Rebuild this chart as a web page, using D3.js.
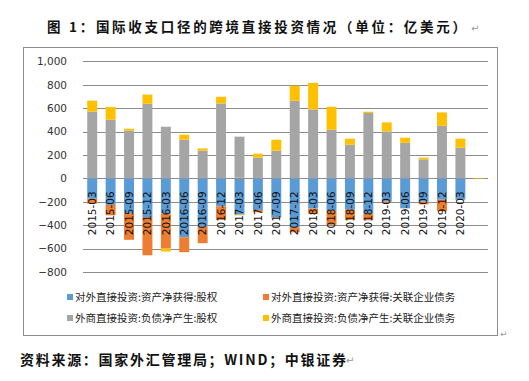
<!DOCTYPE html>
<html><head><meta charset="utf-8">
<script src="https://cdn.jsdelivr.net/npm/d3@7"></script>
<style>body{margin:0;background:#fff}svg{display:block}</style>
</head><body>
<svg id="c" width="529" height="381"></svg>
<script>
const categories = ["2015-03","2015-06","2015-09","2015-12","2016-03","2016-06","2016-09","2016-12","2017-03","2017-06","2017-09","2017-12","2018-03","2018-06","2018-09","2018-12","2019-03","2019-06","2019-09","2019-12","2020-03","2020-06"];
const tickLabels = ["2015-03","2015-06","2015-09","2015-12","2016-03","2016-06","2016-09","2016-12","2017-03","2017-06","2017-09","2017-12","2018-03","2018-06","2018-09","2018-12","2019-03","2019-06","2019-09","2019-12","2020-03",""];
const seriesNames = ["对外直接投资:资产净获得:股权","对外直接投资:资产净获得:关联企业债务","外商直接投资:负债净产生:股权","外商直接投资:负债净产生:关联企业债务"];
const odiEquity = [-174,-227,-298,-333,-301,-503,-412,-239,-310,-270,-333,-418,-258,-276,-267,-301,-196,-256,-199,-182,-179,0];
const odiDebt   = [-42,-89,-227,-324,-299,-128,-142,-116,6,-20,-4,-43,-46,-121,-88,-57,-9,0,-23,-99,-5,0];
const fdiEquity = [570,501,407,637,441,330,236,640,350,177,236,663,589,415,287,558,401,304,162,449,262,0];
const fdiDebt   = [94,108,17,79,-25,43,20,57,-6,34,94,128,227,196,52,11,77,43,15,114,77,-5];
const yTicks = [-800,-600,-400,-200,0,200,400,600,800,1000];
const colors = ["#5B9BD5","#ED7D31","#A5A5A5","#FFC000"];

const svg = d3.select("#c");
const rows = categories.map((c,i)=>({cat:c, s0:odiEquity[i], s1:odiDebt[i], s2:fdiEquity[i], s3:fdiDebt[i]}));
const keys = ["s0","s1","s2","s3"];
const stacked = d3.stack().keys(keys).offset(d3.stackOffsetDiverging)(rows);

const x = d3.scaleBand().domain(categories).range([83,488]).paddingInner(0.46).paddingOuter(0.23);
const y = d3.scaleLinear().domain([-800,1000]).range([272,61.3]);

// title
svg.append("text").attr("x",47).attr("y",32).attr("textLength",419).attr("lengthAdjust","spacing")
  .style("font-family","'Noto Sans CJK SC'").style("font-weight","bold").style("font-size","13.5px").attr("fill","#111")
  .text("图 1：国际收支口径的跨境直接投资情况（单位：亿美元）");
svg.append("text").attr("x",471).attr("y",32).style("font-family","'DejaVu Sans'").style("font-size","10px").attr("fill","#999").text("↵");

// chart border
svg.append("rect").attr("x",23.5).attr("y",47.5).attr("width",474).attr("height",288).attr("fill","none").attr("stroke","#8c8c8c").attr("stroke-width",1);

// gridlines
svg.append("g").selectAll("line").data(yTicks).join("line")
  .attr("x1",83).attr("x2",488).attr("y1",d=>Math.round(y(d))+0.5).attr("y2",d=>Math.round(y(d))+0.5)
  .attr("stroke","#8c8c8c").attr("stroke-width",1);

// y axis labels
const yAxis = d3.axisLeft(y).tickValues(yTicks).tickSize(0).tickPadding(0).tickFormat(d3.format(","));
const ga = svg.append("g").attr("transform","translate(67,0)").call(yAxis);
ga.select(".domain").remove();
ga.selectAll("text").style("font-family","'DejaVu Sans'").style("font-size","10.5px").attr("fill","#333");

// bars
svg.append("g").selectAll("g").data(stacked).join("g").attr("fill",(d,i)=>colors[i])
  .selectAll("rect").data(d=>d).join("rect")
  .attr("x",d=>x(d.data.cat)).attr("width",x.bandwidth())
  .attr("y",d=>y(Math.max(d[0],d[1]))).attr("height",d=>Math.abs(y(d[0])-y(d[1])));

// x axis labels (at zero)
const xAxis = d3.axisBottom(x).tickSize(0).tickPadding(0).tickFormat((d,i)=>tickLabels[i]);
const gx = svg.append("g").attr("transform",`translate(0,${y(0)})`).call(xAxis);
gx.select(".domain").remove();
gx.selectAll("text").attr("transform","rotate(-90)").attr("text-anchor","end").attr("dy","0.35em")
  .attr("x",-13).attr("y",0)
  .style("font-family","'DejaVu Sans'").style("font-size","10.5px").attr("fill","#111");

// legend
const legPos = [[67,297],[263,297],[67,318],[263,318]];
const lg = svg.append("g").selectAll("g").data(seriesNames).join("g")
  .attr("transform",(d,i)=>`translate(${legPos[i][0]},${legPos[i][1]})`);
lg.append("rect").attr("x",0).attr("y",-3).attr("width",6).attr("height",6).attr("fill",(d,i)=>colors[i]);
lg.append("text").attr("x",8).attr("y",0).attr("dy","0.35em")
  .style("font-family","'Noto Sans CJK SC'").style("font-size","10.5px").attr("fill","#222").text(d=>d);

svg.append("text").attr("x",500).attr("y",337).style("font-family","'DejaVu Sans'").style("font-size","9px").attr("fill","#999").text("↵");

// source
svg.append("text").attr("x",20).attr("y",365).attr("textLength",326).attr("lengthAdjust","spacing")
  .style("font-family","'Noto Sans CJK SC'").style("font-weight","bold").style("font-size","14px").attr("fill","#111")
  .text("资料来源：国家外汇管理局；WIND；中银证券");
svg.append("text").attr("x",346).attr("y",364).style("font-family","'DejaVu Sans'").style("font-size","10px").attr("fill","#999").text("↵");
</script>
</body></html>
